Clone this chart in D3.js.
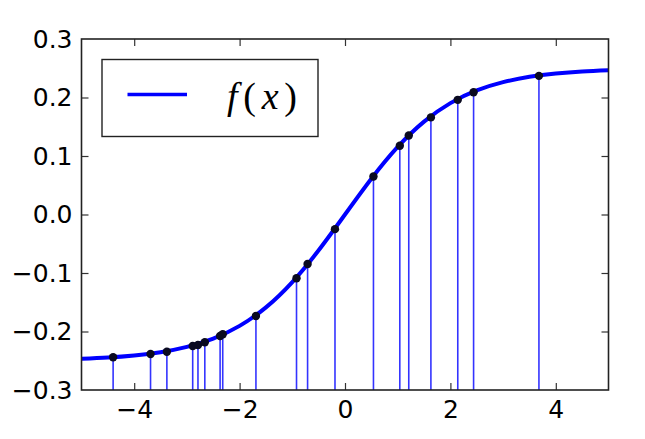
<!DOCTYPE html>
<html>
<head>
<meta charset="utf-8">
<script src="https://cdn.jsdelivr.net/npm/d3@7"></script>
<style>
  html, body { margin: 0; padding: 0; background: #fff; }
  svg { display: block; }
</style>
</head>
<body>
<svg id="chart" width="645" height="439"></svg>
<script>
// ---- data ----
const curveX = [-5, -4.5, -4, -3.5, -3, -2.5, -2, -1.5, -1, -0.5, 0, 0.5, 1, 1.5, 2, 2.5, 3, 3.5, 4, 4.5, 5];
const curveY = [-0.2467, -0.2445, -0.241, -0.2354, -0.2263, -0.2121, -0.1904, -0.1588, -0.1155, -0.0612, 0,
                 0.0612, 0.1155, 0.1588, 0.1904, 0.2121, 0.2263, 0.2354, 0.241, 0.2445, 0.2467];
const sampleX = [-4.40, -3.69, -3.38, -2.89, -2.79, -2.66, -2.37, -2.32, -1.69, -0.92, -0.71, -0.19,
                 0.54, 1.04, 1.21, 1.63, 2.14, 2.44, 3.68];
const sampleY = [-0.2440, -0.2385, -0.2345, -0.2248, -0.2230, -0.2185, -0.2077, -0.2048, -0.1735, -0.1090, -0.0846, -0.0250,
                 0.0650, 0.1176, 0.1350, 0.1660, 0.1960, 0.2090, 0.2370];
const xTicks = [-4, -2, 0, 2, 4];
const yTicks = [-0.3, -0.2, -0.1, 0.0, 0.1, 0.2, 0.3];
const legendLabel = ["f", "(", "x", ")"];

// ---- layout ----
const svg = d3.select("#chart");
const L = 81.5, R = 608.5, T = 39, B = 390;
const x = d3.scaleLinear().domain([-5, 5]).range([L, R]);
const y = d3.scaleLinear().domain([-0.3, 0.3]).range([B, T]);
const blue = "#0000ff";

svg.append("defs").append("clipPath").attr("id", "clip")
  .append("rect").attr("x", L).attr("y", T).attr("width", R - L).attr("height", B - T);

const plot = svg.append("g").attr("clip-path", "url(#clip)");

// stems
plot.selectAll("line.stem").data(sampleX).join("line")
  .attr("class", "stem")
  .attr("x1", d => x(d)).attr("x2", d => x(d))
  .attr("y1", y(-0.3)).attr("y2", (d, i) => y(sampleY[i]))
  .attr("stroke", blue).attr("stroke-opacity", 0.8).attr("stroke-width", 1.6);

// curve
const pts = curveX.map((d, i) => [d, curveY[i]]);
plot.append("path")
  .attr("d", d3.line().x(d => x(d[0])).y(d => y(d[1])).curve(d3.curveNatural)(pts))
  .attr("fill", "none").attr("stroke", blue).attr("stroke-width", 4)
  .attr("stroke-linejoin", "round");

// markers
plot.selectAll("circle.pt").data(sampleX).join("circle")
  .attr("class", "pt")
  .attr("cx", d => x(d)).attr("cy", (d, i) => y(sampleY[i]))
  .attr("r", 4.2).attr("fill", "#0a0a20");

// axes
const fmtY = d3.format(".1f");
const fmtX = d3.format("d");
const tickLen = 7;
const font = "DejaVu Sans, sans-serif";

const gL = svg.append("g").attr("transform", `translate(${L},0)`)
  .call(d3.axisLeft(y).tickValues(yTicks).tickFormat(fmtY).tickSizeInner(-tickLen).tickSizeOuter(0).tickPadding(9));
const gB = svg.append("g").attr("transform", `translate(0,${B})`)
  .call(d3.axisBottom(x).tickValues(xTicks).tickFormat(fmtX).tickSizeInner(-tickLen).tickSizeOuter(0).tickPadding(10));
const gT = svg.append("g").attr("transform", `translate(0,${T})`)
  .call(d3.axisTop(x).tickValues(xTicks).tickFormat("").tickSizeInner(-tickLen).tickSizeOuter(0));
const gR = svg.append("g").attr("transform", `translate(${R},0)`)
  .call(d3.axisRight(y).tickValues(yTicks).tickFormat("").tickSizeInner(-tickLen).tickSizeOuter(0));

[gL, gB, gT, gR].forEach(g => {
  g.select(".domain").remove();
  g.selectAll(".tick line").attr("stroke", "#333").attr("stroke-width", 1.2);
  g.selectAll(".tick text").attr("font-family", font).attr("font-size", 25).attr("fill", "#000");
});
// hide ticks at the frame corners
gL.selectAll(".tick").filter(d => d === -0.3 || d === 0.3).select("line").remove();
gR.selectAll(".tick").filter(d => d === -0.3 || d === 0.3).select("line").remove();

// frame
svg.append("rect").attr("x", L).attr("y", T).attr("width", R - L).attr("height", B - T)
  .attr("fill", "none").attr("stroke", "#222").attr("stroke-width", 1.6);

// legend
const lg = svg.append("g");
lg.append("rect").attr("x", 102).attr("y", 59.5).attr("width", 216).attr("height", 77)
  .attr("fill", "#fff").attr("stroke", "#222").attr("stroke-width", 1.4);
lg.append("line").attr("x1", 127.5).attr("x2", 187).attr("y1", 94.5).attr("y2", 94.5)
  .attr("stroke", blue).attr("stroke-width", 3.5);
const lt = lg.append("text").attr("x", 227).attr("y", 109)
  .attr("font-family", "Liberation Serif, DejaVu Serif, serif").attr("font-size", 38)
  .attr("textLength", 70).attr("lengthAdjust", "spacing").attr("fill", "#000");
legendLabel.forEach((s, i) => {
  lt.append("tspan").text(s).attr("font-style", (s === "f" || s === "x") ? "italic" : "normal");
});
</script>
</body>
</html>
